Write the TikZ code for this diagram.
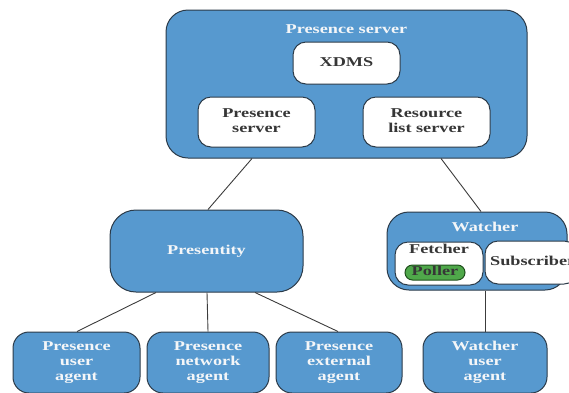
\documentclass[tikz,border=0pt]{standalone}
\usepackage{fontspec}
\setmainfont{Liberation Serif}
\definecolor{boxblue}{HTML}{5799CF}
\definecolor{edgec}{HTML}{2B3A48}
\definecolor{txtdark}{HTML}{363636}
\definecolor{txtlight}{HTML}{F4F6F8}
\definecolor{pollgreen}{HTML}{4FA84A}
\definecolor{polledge}{HTML}{1F4F1C}
\definecolor{linkc}{HTML}{3C3C3C}
\newcommand{\wt}[1]{\scalebox{1.35}[1]{\begin{tabular}{@{}c@{}}#1\end{tabular}}}
\tikzset{
  lblfont/.style={font=\fontsize{13.5}{15}\selectfont\bfseries},
  bluebox/.style={draw=edgec, line width=1pt, fill=boxblue, rounded corners=#1,
    text=txtlight, inner sep=0pt, lblfont},
  bluebox/.default=16pt,
  whitebox/.style={draw=edgec, line width=1pt, fill=white, rounded corners=13pt,
    text=txtdark, inner sep=0pt, lblfont},
  pillbox/.style={draw=polledge, line width=1pt, fill=pollgreen, rounded corners=7.5pt,
    text=txtdark, inner sep=0pt, lblfont},
  title/.style={inner sep=0pt, lblfont},
  link/.style={draw=linkc, line width=0.9pt}
}
\begin{document}
\begin{tikzpicture}[x=1pt,y=-1pt]
\useasboundingbox (0,0) rectangle (569,392);
\clip (0,0) rectangle (569,392);
% server
\node[bluebox=22pt, minimum width=361pt, minimum height=148pt] (srv) at (346.5,84) {};
\node[title, text=txtlight] (srvt) at (346.5,30) {\wt{Presence server}};
\node[whitebox, minimum width=107pt, minimum height=42pt] (xdms) at (346.5,63) {\wt{XDMS}};
\node[whitebox, minimum width=117pt, minimum height=50pt] (ps) at (256.5,122) {\wt{Presence\\server}};
\node[whitebox, minimum width=127pt, minimum height=50pt] (rls) at (426.5,122) {\wt{Resource\\list server}};
% presentity
\node[bluebox=26pt, minimum width=193pt, minimum height=82pt] (pres) at (206.5,251) {\wt{Presentity}};
% watcher
\node[bluebox=22pt, minimum width=180pt, minimum height=78pt] (wat) at (477,251) {};
\node[title, text=txtlight] (watt) at (485,228) {\wt{Watcher}};
\node[whitebox, minimum width=88pt, minimum height=43pt] (fet) at (439,263.5) {};
\node[title, text=txtdark] (fett) at (439,250.5) {\wt{Fetcher}};
\node[pillbox, minimum width=60pt, minimum height=15pt] (pol) at (435,272.5) {\wt{Poller}};
\node[whitebox, minimum width=92pt, minimum height=43pt] (sub) at (531,262.5) {};
\node[title, text=txtdark, anchor=west] (subt) at (490,262.5) {\wt{Subscriber}};
% bottom row
\node[bluebox, minimum width=127pt, minimum height=61pt] (ua) at (76.5,362.5) {\wt{Presence\\user\\agent}};
\node[bluebox, minimum width=122pt, minimum height=61pt] (na) at (208,362.5) {\wt{Presence\\network\\agent}};
\node[bluebox, minimum width=126pt, minimum height=61pt] (ea) at (339,362.5) {\wt{Presence\\external\\agent}};
\node[bluebox, minimum width=124pt, minimum height=61pt] (wua) at (485,362.5) {\wt{Watcher\\user\\agent}};
% links
\draw[link] ([xshift=-94.5pt]srv.south) -- ([xshift=1.5pt]pres.north);
\draw[link] ([xshift=94.5pt]srv.south) -- ([xshift=4pt]wat.north);
\draw[link] ([xshift=-50.5pt]pres.south) -- ([xshift=0.5pt]ua.north);
\draw[link] ([xshift=0.5pt]pres.south) -- (na.north);
\draw[link] ([xshift=48.5pt]pres.south) -- ([xshift=-1pt]ea.north);
\draw[link] ([xshift=8pt]wat.south) -- (wua.north);
\end{tikzpicture}
\end{document}
